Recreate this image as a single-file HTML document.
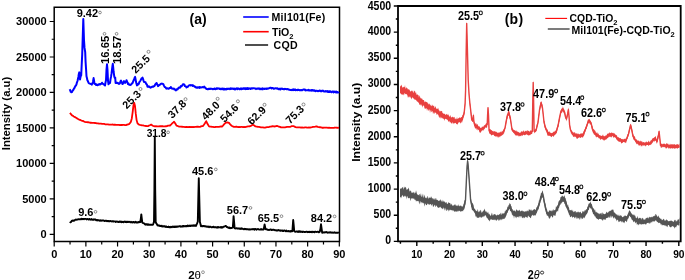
<!DOCTYPE html>
<html><head><meta charset="utf-8"><style>
html,body{margin:0;padding:0;background:#fff;overflow:hidden}
svg{display:block;will-change:transform}
text{font-family:"Liberation Sans",sans-serif}
</style></head><body>
<svg width="685" height="280" viewBox="0 0 685 280">
<rect width="685" height="280" fill="#fff"/>
<g stroke="#000" stroke-width="1.5" fill="none">
<path d="M54.2 7.2 H339.5 V241.4 H54.2 Z"/>
</g>
<path d="M54.20 241.40v5.0 M70.04 241.40v3.0 M85.88 241.40v5.0 M101.72 241.40v3.0 M117.56 241.40v5.0 M133.40 241.40v3.0 M149.24 241.40v5.0 M165.08 241.40v3.0 M180.92 241.40v5.0 M196.76 241.40v3.0 M212.60 241.40v5.0 M228.44 241.40v3.0 M244.28 241.40v5.0 M260.12 241.40v3.0 M275.96 241.40v5.0 M291.80 241.40v3.0 M307.64 241.40v5.0 M323.48 241.40v3.0 M339.32 241.40v5.0 M54.20 234.30h-4.5 M54.20 216.57h-2.5 M54.20 198.84h-4.5 M54.20 181.10h-2.5 M54.20 163.37h-4.5 M54.20 145.64h-2.5 M54.20 127.91h-4.5 M54.20 110.17h-2.5 M54.20 92.44h-4.5 M54.20 74.71h-2.5 M54.20 56.98h-4.5 M54.20 39.24h-2.5 M54.20 21.51h-4.5" stroke="#000" stroke-width="1.2"/>
<text x="54.20" y="257.7" font-size="11" text-anchor="middle" font-family="Liberation Sans, sans-serif" font-weight="bold">0</text>
<text x="85.88" y="257.7" font-size="11" text-anchor="middle" font-family="Liberation Sans, sans-serif" font-weight="bold">10</text>
<text x="117.56" y="257.7" font-size="11" text-anchor="middle" font-family="Liberation Sans, sans-serif" font-weight="bold">20</text>
<text x="149.24" y="257.7" font-size="11" text-anchor="middle" font-family="Liberation Sans, sans-serif" font-weight="bold">30</text>
<text x="180.92" y="257.7" font-size="11" text-anchor="middle" font-family="Liberation Sans, sans-serif" font-weight="bold">40</text>
<text x="212.60" y="257.7" font-size="11" text-anchor="middle" font-family="Liberation Sans, sans-serif" font-weight="bold">50</text>
<text x="244.28" y="257.7" font-size="11" text-anchor="middle" font-family="Liberation Sans, sans-serif" font-weight="bold">60</text>
<text x="275.96" y="257.7" font-size="11" text-anchor="middle" font-family="Liberation Sans, sans-serif" font-weight="bold">70</text>
<text x="307.64" y="257.7" font-size="11" text-anchor="middle" font-family="Liberation Sans, sans-serif" font-weight="bold">80</text>
<text x="339.32" y="257.7" font-size="11" text-anchor="middle" font-family="Liberation Sans, sans-serif" font-weight="bold">90</text>
<text x="46.7" y="238.20" font-size="11" text-anchor="end" font-family="Liberation Sans, sans-serif" font-weight="bold">0</text>
<text x="46.7" y="202.74" font-size="11" text-anchor="end" font-family="Liberation Sans, sans-serif" font-weight="bold">5000</text>
<text x="46.7" y="167.27" font-size="11" text-anchor="end" font-family="Liberation Sans, sans-serif" font-weight="bold">10000</text>
<text x="46.7" y="131.81" font-size="11" text-anchor="end" font-family="Liberation Sans, sans-serif" font-weight="bold">15000</text>
<text x="46.7" y="96.34" font-size="11" text-anchor="end" font-family="Liberation Sans, sans-serif" font-weight="bold">20000</text>
<text x="46.7" y="60.88" font-size="11" text-anchor="end" font-family="Liberation Sans, sans-serif" font-weight="bold">25000</text>
<text x="46.7" y="25.41" font-size="11" text-anchor="end" font-family="Liberation Sans, sans-serif" font-weight="bold">30000</text>
<text transform="translate(10.3,113.5) rotate(-90)" font-size="11.3" text-anchor="middle" font-family="Liberation Sans, sans-serif" font-weight="bold">Intensity (a.u)</text>
<text x="188.2" y="278.5" font-size="11.5" font-family="Liberation Sans, sans-serif" font-weight="bold">2<tspan font-weight="normal">θ</tspan></text>
<circle cx="203" cy="272.2" r="1.4" fill="none" stroke="#555" stroke-width="0.6"/>
<text x="189.6" y="24" font-size="14" font-family="Liberation Sans, sans-serif" font-weight="bold">(a)</text>
<path d="M243.2 17H268.7" stroke="#00f" stroke-width="1.6"/>
<path d="M243.2 31.7H268.7" stroke="#f00" stroke-width="1.6"/>
<path d="M245 45H268.1" stroke="#222" stroke-width="1.6"/>
<text x="271.6" y="20.8" font-size="10.6" font-family="Liberation Sans, sans-serif" font-weight="bold"letter-spacing="0.2">Mil101(Fe)</text>
<text x="271.9" y="35.7" font-size="10.6" font-family="Liberation Sans, sans-serif" font-weight="bold">TiO<tspan font-size="7.5" dy="3.2">2</tspan></text>
<text x="273.6" y="49.3" font-size="10.6" letter-spacing="0.3" font-family="Liberation Sans, sans-serif" font-weight="bold">CQD</text>
<polyline points="69.60,89.21 70.17,90.15 70.73,91.83 71.30,92.33 71.83,92.14 72.35,91.25 72.88,90.21 73.40,90.01 73.90,88.61 74.40,88.17 74.90,86.89 75.40,86.03 75.90,85.52 76.43,84.53 76.97,82.32 77.50,81.00 77.93,79.01 78.37,76.93 78.80,74.08 79.30,72.39 80.00,79.52 80.60,76.50 81.20,75.39 81.70,64.77 82.20,54.61 82.75,36.68 83.30,18.99 84.00,40.35 84.50,47.65 85.20,52.09 85.60,62.15 86.05,68.98 86.50,76.30 86.95,77.99 87.40,80.22 87.97,81.28 88.53,82.70 89.10,83.32 89.64,83.38 90.18,83.85 90.72,83.89 91.26,83.90 91.80,84.62 92.40,83.37 93.00,81.72 93.60,78.08 94.05,80.73 94.50,83.81 95.04,84.01 95.58,83.89 96.12,85.01 96.66,84.42 97.20,85.11 97.74,85.30 98.28,84.46 98.82,84.65 99.36,83.97 99.90,84.49 100.43,84.24 100.95,83.68 101.47,83.66 102.00,82.70 102.50,83.51 103.00,83.80 103.50,84.19 104.00,84.35 104.50,85.07 105.00,85.49 105.50,82.47 106.00,80.18 106.50,69.52 107.00,64.32 107.50,70.16 108.00,80.54 108.50,84.35 109.00,83.40 109.50,83.14 110.00,83.09 110.50,79.41 111.00,76.92 111.50,73.63 111.93,70.08 112.37,66.51 112.80,63.80 113.20,67.34 113.60,71.72 114.30,76.68 114.75,77.81 115.20,77.54 115.60,82.94 116.07,82.82 116.53,82.96 117.00,82.65 117.50,83.15 118.00,82.96 118.50,83.56 119.00,83.94 119.50,83.75 120.00,83.05 120.50,81.39 121.00,80.64 121.50,81.74 122.00,82.77 122.50,84.08 123.00,83.40 123.50,82.24 124.00,81.15 124.50,82.26 125.00,82.86 125.50,82.07 126.00,81.50 126.50,80.21 127.00,81.32 127.50,82.73 128.00,84.09 128.50,83.56 129.00,84.64 129.50,84.66 130.00,84.91 130.50,84.98 131.00,84.68 131.50,84.09 132.00,83.16 132.50,83.15 133.00,81.92 133.57,80.46 134.13,79.15 134.70,77.63 135.10,76.92 135.55,79.26 136.00,81.85 136.50,83.72 137.00,85.36 137.50,85.02 138.00,84.01 138.50,84.31 139.00,83.23 139.50,81.91 140.00,81.23 140.50,80.45 141.00,79.59 141.50,78.45 142.00,78.36 142.50,77.64 143.00,78.83 143.50,80.62 144.00,81.94 144.50,81.96 145.00,82.23 145.50,82.14 146.00,83.74 146.50,83.98 147.00,84.80 147.50,86.80 148.00,86.51 148.50,86.27 149.00,86.89 149.50,86.50 150.00,87.23 150.50,87.66 151.00,87.47 151.50,87.22 152.00,86.67 152.50,86.72 153.00,86.43 153.50,86.72 154.00,86.09 154.50,85.98 155.00,85.11 155.50,84.03 156.00,83.71 156.50,82.93 157.00,83.92 157.50,85.00 158.00,86.15 158.50,85.81 159.00,85.00 159.50,85.07 160.00,84.64 160.47,84.05 160.93,83.81 161.40,83.86 161.87,83.60 162.33,83.85 162.80,83.90 163.31,84.14 163.83,85.48 164.34,86.34 164.86,87.10 165.37,87.25 165.89,87.89 166.40,88.70 166.91,88.49 167.43,88.33 167.94,88.62 168.46,88.75 168.97,88.52 169.49,87.95 170.00,87.97 170.40,87.98 170.80,87.04 171.32,87.92 171.84,88.43 172.36,88.53 172.88,88.74 173.40,88.68 173.92,88.59 174.44,89.50 174.96,89.24 175.48,89.99 176.00,90.42 176.47,89.49 176.94,89.19 177.41,89.49 177.89,88.95 178.36,88.04 178.83,87.69 179.30,87.42 179.80,87.80 180.30,87.24 180.80,86.06 181.30,86.36 181.80,86.08 182.30,85.27 182.80,84.49 183.30,84.25 183.83,84.26 184.37,84.60 184.90,86.12 185.43,86.23 185.97,86.56 186.50,87.48 187.03,86.66 187.57,86.88 188.10,86.56 188.63,85.62 189.17,85.39 189.70,85.17 190.17,85.11 190.64,85.50 191.11,85.14 191.59,85.31 192.06,84.99 192.53,85.85 193.00,85.24 193.50,85.65 194.00,86.09 194.50,86.74 195.00,86.51 195.50,87.36 196.00,87.20 196.50,87.54 197.00,87.83 197.51,87.21 198.03,87.62 198.54,87.28 199.06,87.03 199.57,87.84 200.09,87.10 200.60,87.37 201.11,87.59 201.63,87.35 202.14,87.04 202.66,87.19 203.17,87.18 203.69,87.37 204.20,86.57 204.68,87.47 205.16,87.52 205.64,87.95 206.12,88.90 206.60,89.01 207.08,89.04 207.56,89.23 208.04,89.36 208.52,88.82 209.00,88.97 209.48,88.83 209.96,88.80 210.44,88.97 210.92,88.68 211.40,88.74 211.91,88.68 212.43,89.19 212.94,88.92 213.46,89.11 213.97,89.19 214.49,88.44 215.00,88.77 215.50,89.20 216.00,89.10 216.50,88.35 217.00,88.34 217.50,88.71 218.00,88.32 218.50,88.52 219.00,88.35 219.50,89.02 220.00,89.16 220.50,89.30 221.00,88.50 221.50,89.13 222.00,89.09 222.50,88.53 223.00,89.36 223.50,89.47 224.00,88.66 224.50,89.48 225.00,88.89 225.50,88.98 226.00,89.53 226.50,89.35 227.00,88.60 227.50,88.89 228.00,88.98 228.50,88.78 229.00,88.61 229.50,88.74 230.00,89.18 230.50,88.40 231.00,88.98 231.50,88.85 232.00,88.38 232.50,88.71 233.00,89.03 233.50,88.90 234.00,88.40 234.50,89.41 235.00,89.18 235.50,89.38 236.00,88.42 236.50,88.59 237.00,88.33 237.50,89.14 238.00,88.57 238.50,88.41 239.00,88.73 239.50,89.26 240.00,89.15 240.50,88.52 241.00,88.38 241.50,89.22 242.00,88.82 242.50,88.95 243.00,88.26 243.50,88.21 244.00,88.89 244.50,88.58 245.00,88.18 245.50,89.12 246.00,88.77 246.50,88.94 247.00,88.13 247.50,88.97 248.00,88.08 248.50,88.94 249.00,88.48 249.50,88.34 250.00,88.56 250.50,88.99 251.00,88.29 251.50,88.17 252.00,88.63 252.50,88.34 253.00,88.22 253.50,88.30 254.00,88.21 254.50,88.40 255.00,88.54 255.50,88.56 256.00,89.09 256.50,88.59 257.00,88.85 257.50,88.52 258.00,88.73 258.50,88.39 259.00,88.68 259.50,88.44 260.00,89.26 260.50,89.02 261.00,88.59 261.50,88.86 262.00,89.33 262.50,88.39 263.00,89.13 263.50,88.67 264.00,88.70 264.50,89.04 265.00,88.52 265.50,88.61 266.00,88.77 266.50,89.06 267.00,88.32 267.50,88.82 268.00,88.65 268.50,88.53 269.00,88.24 269.50,88.14 270.00,87.78 270.50,87.83 271.00,87.73 271.50,88.50 272.00,88.01 272.50,87.95 273.00,87.90 273.50,88.77 274.00,88.84 274.50,88.66 275.00,88.28 275.50,88.27 276.00,88.37 276.50,88.59 277.00,88.30 277.50,88.65 278.00,88.49 278.50,89.30 279.00,89.35 279.50,88.92 280.00,88.63 280.50,89.46 281.00,88.78 281.50,88.87 282.00,88.52 282.50,88.98 283.00,89.12 283.50,89.19 284.00,88.90 284.50,89.27 285.00,88.76 285.50,89.09 286.00,88.93 286.50,89.31 287.00,88.96 287.50,88.98 288.00,89.33 288.50,89.29 289.00,89.72 289.50,89.69 290.00,89.98 290.50,89.88 291.00,89.96 291.50,90.15 292.00,89.62 292.50,89.56 293.00,90.29 293.50,89.38 294.00,90.03 294.50,89.95 295.00,89.30 295.50,90.18 296.00,90.25 296.50,89.97 297.00,90.10 297.50,90.19 298.00,89.46 298.50,89.90 299.00,89.88 299.50,90.26 300.00,90.24 300.50,90.27 301.00,90.01 301.50,90.36 302.00,90.14 302.50,90.16 303.00,89.66 303.50,89.45 304.00,89.58 304.50,89.84 305.00,89.57 305.50,90.40 306.00,90.13 306.50,90.24 307.00,90.27 307.50,90.37 308.00,90.19 308.50,89.69 309.00,90.59 309.50,90.57 310.00,90.34 310.50,90.41 311.00,90.58 311.50,89.96 312.00,90.73 312.50,90.23 313.00,90.07 313.50,90.31 314.00,90.85 314.50,90.31 315.00,90.93 315.50,91.22 316.00,90.73 316.50,90.64 317.00,90.78 317.50,91.04 318.00,91.16 318.50,91.03 319.00,91.09 319.50,90.50 320.00,90.61 320.50,90.76 321.00,91.33 321.50,90.88 322.00,91.20 322.50,90.62 323.00,90.71 323.50,90.97 324.00,91.44 324.50,91.50 325.00,91.51 325.50,91.12 326.00,91.40 326.50,91.37 327.00,91.41 327.50,91.05 328.00,91.94 328.50,91.21 329.00,92.09 329.50,92.08 330.00,91.10 330.50,91.62 331.00,92.05 331.50,92.24 332.00,91.70 332.50,91.53 333.00,91.50 333.50,92.34 334.00,91.57 334.50,92.01 335.00,91.55 335.50,92.01 336.00,92.51 336.50,91.64 337.00,92.43 337.50,92.11 338.00,92.56 338.50,92.39 339.00,91.90" fill="none" stroke="#0000ff" stroke-width="2.0" stroke-linejoin="round"/>
<polyline points="69.90,112.92 70.95,114.15 72.00,115.36 72.87,115.82 73.73,116.43 74.60,116.89 75.57,117.47 76.53,118.06 77.50,118.75 78.47,119.18 79.43,119.77 80.40,119.95 81.32,120.52 82.24,120.88 83.16,121.01 84.08,121.59 85.00,121.86 86.00,122.08 87.00,122.06 88.00,122.24 89.00,122.41 90.00,122.75 91.00,122.74 92.00,122.78 93.00,122.91 94.00,122.97 95.00,123.01 96.00,123.14 97.00,123.47 98.00,123.42 99.00,123.72 100.00,123.62 101.00,123.71 102.00,123.86 103.00,123.85 104.00,123.98 105.00,124.24 106.00,124.30 107.00,124.35 108.00,124.38 109.00,124.54 110.00,124.63 111.00,124.56 112.00,124.67 113.00,124.51 114.00,124.77 115.00,124.74 116.00,124.88 117.00,124.89 118.00,124.84 119.00,124.81 120.00,125.13 121.00,124.89 122.00,124.99 123.00,124.95 124.00,124.94 125.00,125.07 126.00,125.14 127.00,124.66 128.00,124.51 129.00,124.14 129.90,123.12 130.80,121.97 131.80,118.40 132.70,111.90 133.50,104.91 134.25,102.87 135.00,106.00 135.80,113.92 136.60,120.12 137.50,123.35 138.25,123.98 139.00,124.69 140.00,124.91 141.00,125.08 142.00,125.35 143.00,125.48 144.00,125.72 145.00,125.93 146.00,126.02 147.00,126.12 148.00,126.07 148.75,125.72 149.50,125.47 150.35,125.06 151.20,124.56 152.10,125.25 153.00,125.87 154.00,126.08 155.00,126.44 156.00,126.19 157.00,126.30 158.00,126.34 159.00,126.41 160.00,126.21 161.00,126.23 162.00,126.22 163.00,126.27 164.00,126.28 165.00,126.44 166.00,126.24 167.00,126.09 168.00,125.68 169.00,125.52 170.00,125.56 171.25,124.37 172.50,122.99 173.30,122.48 174.10,121.75 175.30,123.47 176.50,125.63 177.38,125.92 178.25,126.26 179.12,126.62 180.00,126.72 181.00,126.70 182.00,126.74 183.00,126.87 184.00,126.93 185.00,127.03 186.00,126.99 187.00,126.98 188.00,127.04 189.00,126.97 190.00,127.02 191.00,126.84 192.00,127.04 193.00,126.86 194.00,127.05 195.00,126.94 196.00,126.82 197.00,126.75 198.00,126.77 199.00,126.86 200.00,126.86 201.00,126.42 202.00,126.14 203.00,126.01 203.90,124.77 204.80,123.47 206.20,121.12 207.60,124.03 209.00,126.35 210.00,126.52 211.00,126.65 212.00,126.89 213.00,126.88 214.00,127.03 215.00,126.99 216.00,126.85 217.00,126.78 218.00,126.92 219.00,126.78 220.00,126.59 221.00,126.43 222.00,126.50 223.00,125.55 224.00,124.48 225.00,123.43 226.00,122.55 227.40,122.43 228.20,122.57 229.00,122.86 230.00,124.10 231.00,125.28 232.00,126.00 233.00,126.51 234.00,126.75 235.00,126.79 236.00,126.77 237.00,126.74 238.00,127.03 239.00,126.89 240.00,127.10 241.00,126.92 242.00,126.92 243.00,127.08 244.00,126.94 245.00,127.14 246.00,126.84 247.00,126.59 248.00,126.44 249.00,126.34 250.00,126.25 251.00,125.87 252.00,125.16 253.00,124.77 254.25,125.46 255.50,126.44 256.75,126.54 258.00,126.87 259.00,126.94 260.00,127.11 261.00,127.33 262.00,127.40 263.00,127.43 264.00,127.58 265.00,127.63 266.00,127.31 267.00,127.13 268.00,127.21 269.00,127.01 270.00,126.66 270.90,126.65 271.80,126.36 272.70,126.16 273.85,126.35 275.00,126.50 276.00,126.15 277.00,125.93 278.00,126.26 279.00,126.74 280.00,126.79 281.00,127.34 282.00,127.41 283.00,127.37 284.00,127.42 285.00,127.33 286.00,127.13 287.00,126.93 288.00,126.97 289.00,126.85 290.00,126.93 290.97,126.44 291.93,126.23 292.90,126.12 293.77,126.19 294.63,126.64 295.50,127.09 296.75,127.33 298.00,127.36 299.00,127.36 300.00,127.37 301.00,127.63 302.00,127.43 303.00,127.57 304.00,127.62 305.00,127.45 306.00,127.43 307.00,127.64 308.00,127.54 309.00,127.43 310.00,127.56 311.00,127.27 312.00,127.08 313.00,126.83 314.00,126.88 315.25,126.67 316.50,126.34 317.75,126.88 319.00,127.06 320.00,127.25 321.00,127.46 322.00,127.74 323.00,127.75 324.00,127.59 325.00,127.56 326.00,127.63 327.00,127.66 328.00,127.80 329.00,127.59 330.00,127.78 331.00,127.78 332.00,127.81 333.00,127.81 334.00,127.77 335.00,127.70 336.00,127.71 337.00,127.74 338.00,127.87 339.00,127.67" fill="none" stroke="#ff0000" stroke-width="1.8" stroke-linejoin="round"/>
<polyline points="69.90,221.66 70.45,222.30 71.00,222.10 71.50,221.30 72.00,220.63 72.52,220.86 73.04,220.50 73.56,220.84 74.08,220.59 74.60,220.49 75.08,219.82 75.57,219.58 76.05,219.50 76.53,219.73 77.02,219.81 77.50,219.51 77.98,219.25 78.47,219.30 78.95,219.37 79.43,219.32 79.92,219.29 80.40,219.28 80.91,219.14 81.41,218.72 81.92,219.30 82.42,218.88 82.93,219.11 83.43,218.96 83.94,219.26 84.44,218.84 84.95,218.89 85.45,218.90 85.96,218.84 86.46,219.43 86.97,219.20 87.47,219.01 87.98,219.07 88.48,219.56 88.99,219.18 89.49,218.97 90.00,219.45 90.50,219.37 91.00,219.69 91.50,219.03 92.00,219.38 92.50,219.71 93.00,219.77 93.50,219.88 94.00,219.23 94.50,219.48 95.00,219.40 95.50,219.53 96.00,220.24 96.50,220.01 97.00,220.36 97.50,220.00 98.00,220.47 98.50,220.22 99.00,220.15 99.50,220.64 100.00,220.86 100.50,220.22 101.00,220.66 101.50,220.72 102.00,220.43 102.50,220.59 103.00,220.45 103.50,220.54 104.00,220.62 104.50,220.94 105.00,221.02 105.50,220.70 106.00,220.59 106.50,220.88 107.00,221.20 107.50,220.85 108.00,220.99 108.50,220.94 109.00,221.46 109.50,221.30 110.00,220.95 110.50,221.01 111.00,221.27 111.50,221.42 112.00,221.51 112.50,221.10 113.00,221.18 113.50,221.63 114.00,221.43 114.50,221.35 115.00,221.40 115.50,221.94 116.00,221.45 116.50,221.68 117.00,221.54 117.50,221.61 118.00,221.99 118.50,222.12 119.00,221.64 119.50,221.53 120.00,221.98 120.50,221.57 121.00,221.42 121.50,222.15 122.00,221.78 122.50,222.11 123.00,221.78 123.50,222.18 124.00,221.85 124.50,221.62 125.00,221.51 125.50,221.95 126.00,222.03 126.50,222.26 127.00,221.61 127.50,222.05 128.00,221.86 128.50,221.97 129.00,221.70 129.50,221.82 130.00,222.02 130.50,222.36 131.00,221.72 131.50,222.05 132.00,222.32 132.50,222.47 133.00,221.87 133.50,221.83 134.00,222.50 134.50,222.55 135.00,222.17 135.50,221.85 136.00,222.57 136.50,222.15 137.00,222.59 137.50,222.38 138.00,222.56 138.46,221.93 138.92,222.33 139.38,221.78 139.84,221.82 140.30,222.08 140.90,218.26 141.30,214.35 141.70,217.77 142.30,222.52 142.84,222.95 143.38,223.19 143.92,223.32 144.46,223.76 145.00,224.48 145.50,224.67 146.00,224.03 146.50,224.50 147.00,224.71 147.50,224.18 148.00,224.87 148.50,224.34 149.00,224.78 149.50,224.79 150.00,224.90 150.50,224.61 151.00,224.67 151.50,224.77 152.00,224.61 152.50,224.76 153.00,224.56 153.50,223.25 154.00,221.62 154.40,190.10 154.80,136.99 155.20,189.79 155.70,222.21 156.15,223.10 156.60,223.72 157.05,224.37 157.50,225.48 158.00,225.29 158.50,225.40 159.00,225.74 159.50,225.57 160.00,225.95 160.50,226.06 161.00,225.73 161.50,226.26 162.00,225.87 162.50,226.44 163.00,226.52 163.50,226.36 164.00,226.04 164.50,226.45 165.00,226.40 165.50,226.91 166.00,226.31 166.50,226.94 167.00,227.10 167.50,226.94 168.00,227.05 168.50,226.60 169.00,227.29 169.50,226.94 170.00,227.37 170.50,227.31 171.00,226.68 171.50,227.16 172.00,227.24 172.50,226.53 173.00,226.73 173.50,227.03 174.00,226.53 174.50,227.09 175.00,226.57 175.50,226.98 176.00,226.41 176.50,226.68 177.00,226.99 177.50,226.39 178.00,226.41 178.50,226.58 179.00,226.41 179.50,226.15 180.00,226.25 180.50,226.19 181.00,226.77 181.50,226.52 182.00,226.66 182.50,226.03 183.00,226.49 183.50,225.91 184.00,226.20 184.50,226.25 185.00,225.99 185.50,226.36 186.00,226.06 186.50,226.04 187.00,226.25 187.50,225.58 188.00,226.25 188.50,225.92 189.00,225.70 189.50,225.98 190.00,225.51 190.50,226.08 191.00,225.73 191.50,225.54 192.00,225.85 192.50,225.57 193.00,225.34 193.50,225.78 194.00,225.21 194.50,225.81 195.00,225.34 195.50,225.63 196.00,225.89 196.45,224.69 196.90,223.88 197.35,222.73 197.80,221.60 198.40,194.63 198.80,178.32 199.20,195.09 199.90,221.95 200.45,224.01 201.00,226.32 201.50,225.76 202.00,225.89 202.50,226.29 203.00,225.84 203.50,225.88 204.00,226.22 204.50,226.07 205.00,226.33 205.50,226.28 206.00,226.62 206.50,226.68 207.00,226.43 207.50,226.82 208.00,226.76 208.50,226.54 209.00,227.24 209.50,226.74 210.00,226.72 210.50,226.70 211.00,227.15 211.50,227.36 212.00,227.31 212.50,227.03 213.00,226.94 213.50,226.76 214.00,227.28 214.50,227.24 215.00,227.09 215.50,227.35 216.00,227.21 216.50,227.62 217.00,227.48 217.50,227.11 218.00,227.66 218.50,226.99 219.00,227.40 219.50,227.32 220.00,227.21 220.50,227.08 221.00,227.68 221.50,227.09 222.00,227.54 222.50,227.65 223.00,226.81 223.50,226.66 224.00,226.79 224.50,226.51 225.05,226.21 225.60,225.95 226.15,226.19 226.70,227.05 227.17,227.15 227.64,227.07 228.11,227.85 228.59,227.88 229.06,227.94 229.53,227.49 230.00,228.28 230.47,228.16 230.93,227.91 231.40,228.09 231.87,227.83 232.33,227.61 232.80,227.48 233.30,220.79 233.60,216.13 234.00,220.87 234.60,228.20 235.07,228.26 235.53,228.48 236.00,228.47 236.50,228.15 237.00,228.42 237.50,228.37 238.00,228.69 238.50,228.51 239.00,228.35 239.50,228.69 240.00,228.98 240.50,228.42 241.00,228.99 241.50,228.34 242.00,228.57 242.50,228.59 243.00,229.04 243.50,229.24 244.00,229.12 244.50,228.82 245.00,229.30 245.50,228.88 246.00,228.83 246.50,229.39 247.00,229.18 247.50,229.25 248.00,229.25 248.50,229.52 249.00,229.14 249.50,229.45 250.00,229.36 250.50,229.50 251.00,229.18 251.50,229.42 252.00,229.32 252.50,229.12 253.00,229.06 253.50,229.40 254.00,228.98 254.50,229.66 255.00,229.07 255.50,228.99 256.00,229.07 256.50,229.74 257.00,229.29 257.50,229.14 258.00,229.06 258.50,229.09 259.00,229.62 259.50,229.59 260.00,229.66 260.48,229.66 260.95,229.10 261.43,229.50 261.90,229.29 262.38,229.63 262.85,229.61 263.32,229.64 263.80,228.95 264.30,226.29 264.60,224.53 265.00,226.36 265.50,229.09 266.00,229.23 266.50,229.22 267.00,229.23 267.50,229.91 268.00,229.92 268.50,229.81 269.00,230.00 269.50,229.88 270.00,229.64 270.50,229.52 271.00,229.56 271.50,230.12 272.00,229.71 272.50,229.84 273.00,229.95 273.50,229.67 274.00,229.89 274.50,229.95 275.00,230.33 275.50,230.08 276.00,230.08 276.50,230.63 277.00,230.30 277.50,230.61 278.00,230.46 278.50,230.02 279.00,230.36 279.50,230.41 280.00,230.72 280.50,230.42 281.00,230.74 281.50,230.65 282.00,230.43 282.50,230.99 283.00,230.41 283.50,231.04 284.00,230.56 284.50,230.46 285.00,230.66 285.50,231.15 286.00,231.36 286.50,230.62 287.00,231.05 287.50,231.09 288.00,231.38 288.50,230.93 289.00,231.22 289.50,231.14 290.00,231.57 290.48,231.05 290.96,231.54 291.44,230.95 291.92,230.83 292.40,231.16 292.90,224.00 293.20,219.99 293.60,224.11 294.20,230.86 294.60,231.58 295.00,231.66 295.50,231.75 296.00,231.64 296.50,231.43 297.00,231.49 297.50,231.50 298.00,231.91 298.50,231.29 299.00,231.94 299.50,231.27 300.00,231.43 300.50,231.49 301.00,232.02 301.50,231.72 302.00,231.64 302.50,232.06 303.00,231.55 303.50,231.75 304.00,231.83 304.50,232.02 305.00,232.04 305.50,231.97 306.00,231.75 306.50,231.74 307.00,231.62 307.50,232.19 308.00,232.06 308.50,232.14 309.00,231.70 309.50,231.93 310.00,232.22 310.49,232.06 310.98,231.70 311.47,231.97 311.96,232.31 312.45,231.79 312.94,231.75 313.43,231.84 313.92,232.16 314.41,232.27 314.90,231.72 315.39,231.72 315.88,231.80 316.37,231.86 316.86,232.02 317.35,231.73 317.84,231.86 318.33,231.75 318.82,232.38 319.31,232.18 319.80,231.68 320.50,228.37 321.00,224.28 321.50,227.91 322.20,232.79 322.69,232.64 323.19,232.60 323.68,232.37 324.18,232.18 324.67,232.54 325.16,232.12 325.66,232.21 326.15,232.36 326.65,232.08 327.14,232.38 327.64,232.70 328.13,232.63 328.62,232.48 329.12,232.59 329.61,232.46 330.11,232.21 330.60,232.58 331.09,232.43 331.59,232.70 332.08,232.84 332.58,232.47 333.07,232.59 333.56,232.73 334.06,232.48 334.55,232.33 335.05,232.73 335.54,232.86 336.04,232.78 336.53,232.73 337.02,232.86 337.52,232.73 338.01,232.70 338.51,232.56 339.00,232.45" fill="none" stroke="#000" stroke-width="1.9" stroke-linejoin="round"/>
<text x="76.70" y="16.50" font-size="11" font-family="Liberation Sans, sans-serif" font-weight="bold">9.42</text>
<circle cx="100.00" cy="12.50" r="1.35" fill="none" stroke="#444" stroke-width="0.6"/>
<text x="78.20" y="215.70" font-size="11" font-family="Liberation Sans, sans-serif" font-weight="bold">9.6</text>
<circle cx="95.50" cy="211.80" r="1.35" fill="none" stroke="#444" stroke-width="0.6"/>
<text x="146.70" y="136.50" font-size="10.2" font-family="Liberation Sans, sans-serif" font-weight="bold">31.8</text>
<circle cx="168.10" cy="132.30" r="1.35" fill="none" stroke="#444" stroke-width="0.6"/>
<text x="192.00" y="175.20" font-size="11" font-family="Liberation Sans, sans-serif" font-weight="bold">45.6</text>
<circle cx="215.80" cy="169.40" r="1.35" fill="none" stroke="#444" stroke-width="0.6"/>
<text x="226.80" y="213.60" font-size="11" font-family="Liberation Sans, sans-serif" font-weight="bold">56.7</text>
<circle cx="250.50" cy="207.90" r="1.35" fill="none" stroke="#444" stroke-width="0.6"/>
<text x="257.70" y="221.50" font-size="11" font-family="Liberation Sans, sans-serif" font-weight="bold">65.5</text>
<circle cx="281.50" cy="216.20" r="1.35" fill="none" stroke="#444" stroke-width="0.6"/>
<text x="310.80" y="221.70" font-size="11" font-family="Liberation Sans, sans-serif" font-weight="bold">84.2</text>
<circle cx="334.60" cy="216.40" r="1.35" fill="none" stroke="#444" stroke-width="0.6"/>
<text transform="translate(108.70,64.00) rotate(-90)" font-size="11.3" font-family="Liberation Sans, sans-serif" font-weight="bold">16.65</text>
<circle cx="104.50" cy="33.80" r="1.35" fill="none" stroke="#444" stroke-width="0.6"/>
<text transform="translate(120.90,64.00) rotate(-90)" font-size="11.3" font-family="Liberation Sans, sans-serif" font-weight="bold">18.57</text>
<circle cx="116.60" cy="33.80" r="1.35" fill="none" stroke="#444" stroke-width="0.6"/>
<text transform="translate(135.80,74.00) rotate(-45)" font-size="10.8" font-family="Liberation Sans, sans-serif" font-weight="bold">25.5</text>
<circle cx="148.50" cy="51.80" r="1.50" fill="none" stroke="#444" stroke-width="0.6"/>
<text transform="translate(126.80,109.50) rotate(-45)" font-size="10.8" font-family="Liberation Sans, sans-serif" font-weight="bold">25.3</text>
<circle cx="140.50" cy="89.00" r="1.50" fill="none" stroke="#444" stroke-width="0.6"/>
<text transform="translate(172.20,119.00) rotate(-45)" font-size="10.8" font-family="Liberation Sans, sans-serif" font-weight="bold">37.8</text>
<circle cx="185.50" cy="99.20" r="1.50" fill="none" stroke="#444" stroke-width="0.6"/>
<text transform="translate(205.75,120.70) rotate(-45)" font-size="10.8" font-family="Liberation Sans, sans-serif" font-weight="bold">48.0</text>
<circle cx="217.60" cy="98.80" r="1.50" fill="none" stroke="#444" stroke-width="0.6"/>
<text transform="translate(224.50,123.10) rotate(-45)" font-size="10.8" font-family="Liberation Sans, sans-serif" font-weight="bold">54.6</text>
<circle cx="237.90" cy="101.30" r="1.50" fill="none" stroke="#444" stroke-width="0.6"/>
<text transform="translate(251.80,125.50) rotate(-45)" font-size="10.8" font-family="Liberation Sans, sans-serif" font-weight="bold">62.9</text>
<circle cx="264.50" cy="104.80" r="1.50" fill="none" stroke="#444" stroke-width="0.6"/>
<text transform="translate(290.00,124.50) rotate(-45)" font-size="10.8" font-family="Liberation Sans, sans-serif" font-weight="bold">75.3</text>
<circle cx="303.50" cy="104.50" r="1.50" fill="none" stroke="#444" stroke-width="0.6"/>
<path d="M398.0 6.0 H680.7 V241.4 H398.0 Z" stroke="#000" stroke-width="1.8" fill="none"/>
<path d="M400.43 241.40v2.3 M416.80 241.40v4.5 M433.18 241.40v2.3 M449.55 241.40v4.5 M465.93 241.40v2.3 M482.30 241.40v4.5 M498.68 241.40v2.3 M515.05 241.40v4.5 M531.42 241.40v2.3 M547.80 241.40v4.5 M564.17 241.40v2.3 M580.55 241.40v4.5 M596.92 241.40v2.3 M613.30 241.40v4.5 M629.67 241.40v2.3 M646.05 241.40v4.5 M662.42 241.40v2.3 M678.80 241.40v4.5 M398.00 241.40h-4.2 M398.00 228.32h-2.2 M398.00 215.24h-4.2 M398.00 202.16h-2.2 M398.00 189.08h-4.2 M398.00 176.00h-2.2 M398.00 162.92h-4.2 M398.00 149.84h-2.2 M398.00 136.76h-4.2 M398.00 123.68h-2.2 M398.00 110.60h-4.2 M398.00 97.52h-2.2 M398.00 84.44h-4.2 M398.00 71.36h-2.2 M398.00 58.28h-4.2 M398.00 45.20h-2.2 M398.00 32.12h-4.2 M398.00 19.04h-2.2 M398.00 5.96h-4.2" stroke="#000" stroke-width="1.4"/>
<text transform="translate(416.80,258.40) scale(0.880,1)" font-size="11.6" text-anchor="middle" font-family="Liberation Sans, sans-serif" font-weight="bold" >10</text>
<text transform="translate(449.55,258.40) scale(0.880,1)" font-size="11.6" text-anchor="middle" font-family="Liberation Sans, sans-serif" font-weight="bold" >20</text>
<text transform="translate(482.30,258.40) scale(0.880,1)" font-size="11.6" text-anchor="middle" font-family="Liberation Sans, sans-serif" font-weight="bold" >30</text>
<text transform="translate(515.05,258.40) scale(0.880,1)" font-size="11.6" text-anchor="middle" font-family="Liberation Sans, sans-serif" font-weight="bold" >40</text>
<text transform="translate(547.80,258.40) scale(0.880,1)" font-size="11.6" text-anchor="middle" font-family="Liberation Sans, sans-serif" font-weight="bold" >50</text>
<text transform="translate(580.55,258.40) scale(0.880,1)" font-size="11.6" text-anchor="middle" font-family="Liberation Sans, sans-serif" font-weight="bold" >60</text>
<text transform="translate(613.30,258.40) scale(0.880,1)" font-size="11.6" text-anchor="middle" font-family="Liberation Sans, sans-serif" font-weight="bold" >70</text>
<text transform="translate(646.05,258.40) scale(0.880,1)" font-size="11.6" text-anchor="middle" font-family="Liberation Sans, sans-serif" font-weight="bold" >80</text>
<text transform="translate(678.80,258.40) scale(0.880,1)" font-size="11.6" text-anchor="middle" font-family="Liberation Sans, sans-serif" font-weight="bold" >90</text>
<text transform="translate(391.20,244.40) scale(0.880,1)" font-size="12.0" text-anchor="end" font-family="Liberation Sans, sans-serif" font-weight="bold" >0</text>
<text transform="translate(391.20,218.24) scale(0.880,1)" font-size="12.0" text-anchor="end" font-family="Liberation Sans, sans-serif" font-weight="bold" >500</text>
<text transform="translate(391.20,192.08) scale(0.880,1)" font-size="12.0" text-anchor="end" font-family="Liberation Sans, sans-serif" font-weight="bold" >1000</text>
<text transform="translate(391.20,165.92) scale(0.880,1)" font-size="12.0" text-anchor="end" font-family="Liberation Sans, sans-serif" font-weight="bold" >1500</text>
<text transform="translate(391.20,139.76) scale(0.880,1)" font-size="12.0" text-anchor="end" font-family="Liberation Sans, sans-serif" font-weight="bold" >2000</text>
<text transform="translate(391.20,113.60) scale(0.880,1)" font-size="12.0" text-anchor="end" font-family="Liberation Sans, sans-serif" font-weight="bold" >2500</text>
<text transform="translate(391.20,87.44) scale(0.880,1)" font-size="12.0" text-anchor="end" font-family="Liberation Sans, sans-serif" font-weight="bold" >3000</text>
<text transform="translate(391.20,61.28) scale(0.880,1)" font-size="12.0" text-anchor="end" font-family="Liberation Sans, sans-serif" font-weight="bold" >3500</text>
<text transform="translate(391.20,35.12) scale(0.880,1)" font-size="12.0" text-anchor="end" font-family="Liberation Sans, sans-serif" font-weight="bold" >4000</text>
<text transform="translate(391.20,10.16) scale(0.880,1)" font-size="12.0" text-anchor="end" font-family="Liberation Sans, sans-serif" font-weight="bold" >4500</text>
<text transform="translate(360.3,122.3) rotate(-90) scale(1.15,1)" font-size="10.6" text-anchor="middle" font-family="Liberation Sans, sans-serif" font-weight="bold">Intensity (a.u)</text>
<text transform="translate(527.7,278.7) scale(0.9,1)" font-size="12" font-family="Liberation Sans, sans-serif" font-weight="bold">2<tspan font-weight="normal" font-style="italic">θ</tspan></text>
<ellipse cx="542.1" cy="272.6" rx="1.6" ry="1.5" fill="none" stroke="#222" stroke-width="0.9"/>
<text x="504.8" y="23.7" font-size="14" font-family="Liberation Sans, sans-serif" font-weight="bold">(b<tspan dx="0.6">)</tspan></text>
<path d="M545.3 18.4H567.1" stroke="#f00" stroke-width="1.1"/>
<path d="M547.8 29H569.6" stroke="#505050" stroke-width="1.5"/>
<text x="569.6" y="22" font-size="10.4" font-family="Liberation Sans, sans-serif" font-weight="bold">CQD-TiO<tspan font-size="7.5" dy="3">2</tspan></text>
<text x="571.6" y="33.9" font-size="10.5" font-family="Liberation Sans, sans-serif" font-weight="bold">Mil101(Fe)-CQD-TiO<tspan font-size="7.5" dy="3">2</tspan></text>
<polygon points="400.00,87.08 400.50,85.72 401.00,85.85 401.50,84.60 402.00,86.41 402.50,87.40 403.00,87.66 403.50,86.66 404.00,87.03 404.50,87.18 405.00,85.06 405.50,88.66 406.00,88.13 406.50,86.95 407.00,88.77 407.50,88.04 408.00,89.94 408.50,88.77 409.00,89.84 409.50,89.44 410.00,90.90 410.50,91.53 411.00,91.40 411.50,90.38 412.00,90.69 412.50,91.64 413.00,89.92 413.50,93.14 414.00,91.72 414.50,90.77 415.00,90.75 415.50,93.57 416.00,91.96 416.50,94.49 417.00,94.90 417.50,94.06 418.00,95.30 418.50,95.00 419.00,97.66 419.50,95.24 420.00,96.40 420.50,98.17 421.00,98.15 421.50,98.83 422.00,98.31 422.50,99.50 423.00,100.34 423.50,100.06 424.00,99.91 424.50,102.38 425.00,101.31 425.50,101.70 426.00,101.84 426.50,101.95 427.00,102.22 427.50,102.40 428.00,103.87 428.50,103.40 429.00,105.03 429.50,103.37 430.00,104.39 430.50,105.04 431.00,105.88 431.50,106.20 432.00,104.37 432.50,105.39 433.00,105.70 433.50,106.15 434.00,105.27 434.50,107.98 435.00,107.61 435.50,105.89 436.00,108.11 436.50,108.66 437.00,108.99 437.50,109.00 438.00,107.58 438.50,108.94 439.00,110.45 439.50,110.48 440.00,112.09 440.50,110.74 441.00,111.05 441.50,111.27 442.00,110.83 442.50,113.16 443.00,112.65 443.50,113.64 444.00,114.26 444.50,113.60 445.00,114.09 445.50,114.91 446.00,114.74 446.50,113.85 447.00,114.51 447.50,115.27 448.00,113.58 448.50,115.29 449.00,115.47 449.50,116.87 450.00,116.46 450.50,114.80 451.00,117.68 451.50,116.95 452.00,117.51 452.50,116.47 453.00,117.12 453.50,117.54 454.00,117.31 454.50,116.83 455.00,119.38 455.50,118.69 456.00,118.32 456.50,119.40 457.00,116.76 457.50,119.23 458.00,118.60 458.50,118.27 459.00,118.10 459.50,117.31 460.00,117.84 460.50,118.32 461.00,116.74 461.50,117.28 462.00,117.07 462.50,114.95 463.00,114.51 463.55,112.70 464.10,110.97 464.60,105.86 465.10,102.03 465.60,88.60 466.20,48.30 466.70,20.98 467.30,42.62 467.75,60.01 468.20,76.76 468.65,84.95 469.10,93.22 469.50,98.07 469.90,102.20 470.40,104.80 470.90,110.69 471.30,113.67 471.70,116.65 472.15,118.56 472.60,118.75 473.00,116.18 473.40,113.00 473.90,120.06 474.40,122.04 474.90,122.87 475.37,123.57 475.83,123.85 476.30,123.18 476.77,125.04 477.23,123.74 477.70,124.87 478.18,125.77 478.67,126.48 479.15,126.11 479.63,126.76 480.12,127.43 480.60,127.99 481.07,127.72 481.53,127.74 482.00,126.48 482.47,126.81 482.93,126.86 483.40,126.86 483.95,125.60 484.50,125.22 485.05,124.89 485.60,124.23 486.13,123.03 486.67,123.38 487.20,123.06 487.60,113.71 488.00,106.44 488.50,113.57 489.10,128.89 489.61,128.98 490.13,129.19 490.64,129.33 491.16,130.15 491.67,130.01 492.19,130.76 492.70,131.13 493.16,130.67 493.62,131.67 494.08,131.21 494.54,130.94 495.00,131.68 495.50,131.62 496.00,131.81 496.50,131.75 497.00,132.39 497.50,132.91 498.00,132.36 498.50,132.71 499.00,132.73 499.50,132.22 500.00,132.50 500.50,131.18 501.00,132.39 501.50,131.89 502.00,130.42 502.50,131.69 503.00,130.58 503.50,129.83 504.00,128.53 504.50,127.88 505.00,126.66 505.50,123.16 506.00,120.19 506.50,118.31 507.00,113.81 507.53,114.23 508.07,110.95 508.60,109.96 509.17,110.93 509.73,113.06 510.30,115.77 510.87,118.74 511.43,123.96 512.00,127.50 512.50,128.29 513.00,128.94 513.50,129.67 514.00,130.35 514.50,129.94 515.00,130.55 515.50,131.31 516.00,130.08 516.50,131.11 517.00,131.74 517.50,131.15 518.00,132.16 518.50,131.87 519.00,132.58 519.50,132.82 520.00,132.69 520.50,132.81 521.00,131.54 521.50,131.16 522.00,131.64 522.50,131.46 523.00,131.43 523.50,130.09 524.00,131.85 524.50,131.89 525.00,130.61 525.50,131.22 526.00,130.68 526.50,130.68 527.00,131.78 527.50,129.85 528.00,130.93 528.50,130.67 529.00,131.00 529.50,132.02 530.00,130.79 530.46,130.75 530.92,130.01 531.38,130.96 531.84,130.24 532.30,129.98 532.80,97.48 533.20,79.76 533.60,98.04 534.10,129.27 534.58,129.76 535.05,129.64 535.52,128.88 536.00,128.81 536.50,125.88 537.00,123.87 537.50,122.63 538.00,119.91 538.50,115.07 539.00,112.92 539.50,108.56 540.03,104.75 540.57,103.36 541.10,100.80 541.57,102.82 542.03,103.83 542.50,104.95 543.00,110.67 543.50,115.53 544.00,120.21 544.50,121.63 545.00,124.43 545.50,126.35 546.00,126.65 546.50,128.23 547.00,129.67 547.50,128.98 548.00,131.08 548.50,131.98 549.00,131.64 549.50,131.28 550.00,132.77 550.50,132.46 551.00,133.05 551.50,133.22 552.00,132.78 552.50,132.94 553.00,132.15 553.50,132.09 554.00,131.36 554.50,132.02 555.00,130.53 555.50,130.51 556.00,131.32 556.50,128.71 557.00,126.86 557.50,124.90 558.00,123.88 558.50,121.13 559.00,118.65 559.50,116.68 560.00,114.24 560.50,112.02 561.00,109.58 561.48,108.93 561.95,108.12 562.42,108.24 562.90,106.21 563.43,108.22 563.97,108.82 564.50,110.74 565.00,111.41 565.50,115.19 566.00,116.84 566.50,117.20 567.05,114.40 567.60,112.48 568.00,108.45 568.40,107.42 569.00,114.34 569.60,121.60 570.05,125.31 570.50,128.08 571.00,129.26 571.50,130.23 572.00,131.42 572.50,131.49 573.00,132.73 573.50,132.01 574.00,133.38 574.50,131.94 575.00,132.37 575.50,133.64 576.00,133.19 576.50,133.50 577.00,133.49 577.50,133.55 578.00,134.59 578.50,133.48 579.00,133.79 579.50,134.54 580.00,134.07 580.50,133.81 581.00,133.00 581.50,133.84 582.00,133.15 582.50,133.39 583.00,133.22 583.50,131.86 584.00,130.58 584.50,129.73 585.00,128.60 585.50,126.68 586.00,126.82 586.50,124.59 587.00,123.65 587.50,120.82 588.00,119.49 588.53,119.41 589.07,118.71 589.60,119.30 590.07,119.96 590.53,120.88 591.00,121.54 591.50,123.37 592.00,125.50 592.50,126.60 593.00,128.89 593.50,129.35 594.00,129.23 594.50,130.22 595.00,130.38 595.50,131.25 596.00,133.13 596.50,133.11 597.00,131.64 597.50,133.25 598.00,133.92 598.50,133.17 599.00,134.96 599.50,135.25 600.00,135.28 600.50,135.59 601.00,135.63 601.50,136.07 602.00,135.75 602.50,135.62 603.00,134.34 603.50,136.03 604.00,136.17 604.50,136.01 605.00,136.45 605.50,135.42 606.00,135.24 606.50,135.38 607.00,134.25 607.50,133.45 608.00,133.67 608.50,133.33 609.00,133.57 609.50,131.99 610.00,133.37 610.50,132.86 611.00,133.24 611.50,132.24 612.00,132.75 612.50,133.27 613.00,132.57 613.50,133.33 614.00,133.42 614.50,133.35 615.00,133.97 615.50,134.84 616.00,134.76 616.50,135.24 617.00,135.47 617.50,137.14 618.00,137.30 618.50,137.37 619.00,137.42 619.50,138.37 620.00,138.05 620.50,138.05 621.00,138.85 621.50,139.04 622.00,139.18 622.50,139.28 623.00,138.73 623.50,139.63 624.00,138.66 624.50,138.66 625.00,139.01 625.50,138.35 626.00,139.48 626.50,137.74 627.00,136.15 627.50,134.35 628.00,133.93 628.50,132.26 629.02,129.55 629.55,128.32 630.08,125.37 630.60,123.49 631.07,125.27 631.53,126.48 632.00,128.72 632.50,131.26 633.00,134.23 633.50,134.84 634.00,136.69 634.50,135.95 635.00,136.56 635.50,139.29 636.00,139.40 636.50,139.22 637.00,139.64 637.50,140.47 638.00,141.12 638.50,140.59 639.00,140.52 639.50,141.64 640.00,141.04 640.50,140.50 641.00,142.08 641.50,141.27 642.00,140.95 642.50,142.22 643.00,142.50 643.50,142.07 644.00,142.09 644.50,142.72 645.00,142.34 645.50,142.54 646.00,141.56 646.50,141.51 647.00,142.49 647.50,141.93 648.00,142.29 648.50,140.75 649.00,140.72 649.50,142.13 650.00,142.36 650.50,140.62 651.00,140.44 651.50,140.32 652.00,139.24 652.50,138.40 653.00,137.64 653.55,138.15 654.10,137.59 654.65,137.19 655.20,136.56 655.65,136.05 656.10,137.72 656.55,139.21 657.00,139.51 657.43,136.53 657.87,135.98 658.30,133.74 658.70,131.39 659.10,130.07 659.80,136.30 660.50,142.39 661.00,143.27 661.50,143.81 662.00,143.92 662.50,144.39 663.00,143.34 663.50,144.00 664.00,143.64 664.50,143.55 665.00,144.35 665.50,144.33 666.00,144.33 666.50,143.03 667.00,143.44 667.50,144.11 668.00,143.16 668.50,144.80 669.00,144.49 669.50,144.95 670.00,143.48 670.50,144.44 671.00,144.66 671.50,144.26 672.00,144.00 672.50,144.77 673.00,143.77 673.50,144.71 674.00,144.24 674.50,143.97 675.00,144.78 675.50,144.93 676.00,144.27 676.50,144.16 677.00,144.91 677.50,144.04 678.00,144.07 678.50,145.18 679.00,144.05 679.50,143.62 679.50,148.32 679.00,147.75 678.50,148.00 678.00,147.91 677.50,148.96 677.00,147.88 676.50,148.46 676.00,147.67 675.50,148.23 675.00,149.37 674.50,148.50 674.00,148.14 673.50,148.25 673.00,148.15 672.50,148.63 672.00,148.35 671.50,147.93 671.00,148.69 670.50,148.51 670.00,148.13 669.50,147.82 669.00,149.25 668.50,148.25 668.00,147.38 667.50,147.22 667.00,148.03 666.50,148.14 666.00,148.66 665.50,148.02 665.00,146.74 664.50,147.55 664.00,146.76 663.50,147.10 663.00,147.41 662.50,146.60 662.00,147.67 661.50,147.41 661.00,147.77 660.50,147.02 659.80,139.75 659.10,132.90 658.70,136.14 658.30,138.38 657.87,140.06 657.43,141.94 657.00,143.80 656.55,143.16 656.10,141.17 655.65,140.49 655.20,140.44 654.65,142.01 654.10,140.51 653.55,141.58 653.00,141.64 652.50,142.92 652.00,143.36 651.50,144.17 651.00,144.39 650.50,144.79 650.00,145.30 649.50,144.85 649.00,145.45 648.50,146.08 648.00,145.09 647.50,145.08 647.00,145.07 646.50,145.56 646.00,145.14 645.50,146.61 645.00,145.91 644.50,145.24 644.00,145.15 643.50,145.77 643.00,145.36 642.50,145.21 642.00,146.72 641.50,145.54 641.00,146.73 640.50,144.70 640.00,145.16 639.50,145.26 639.00,146.14 638.50,144.84 638.00,144.44 637.50,143.50 637.00,144.62 636.50,143.81 636.00,143.17 635.50,141.96 635.00,140.80 634.50,140.23 634.00,140.11 633.50,139.45 633.00,137.76 632.50,135.82 632.00,132.92 631.53,130.98 631.07,129.85 630.60,127.20 630.08,128.73 629.55,131.34 629.02,134.11 628.50,135.91 628.00,137.16 627.50,138.92 627.00,139.14 626.50,141.56 626.00,143.32 625.50,142.22 625.00,143.18 624.50,141.94 624.00,141.99 623.50,142.11 623.00,142.18 622.50,143.00 622.00,143.03 621.50,143.67 621.00,142.87 620.50,141.55 620.00,142.04 619.50,141.57 619.00,142.25 618.50,141.25 618.00,141.08 617.50,140.49 617.00,140.34 616.50,139.49 616.00,138.43 615.50,137.43 615.00,137.24 614.50,137.24 614.00,137.36 613.50,138.10 613.00,136.54 612.50,135.86 612.00,136.65 611.50,137.76 611.00,136.36 610.50,136.94 610.00,137.20 609.50,136.74 609.00,136.49 608.50,137.38 608.00,137.63 607.50,138.31 607.00,138.49 606.50,139.44 606.00,139.34 605.50,140.09 605.00,139.50 604.50,140.71 604.00,140.37 603.50,140.59 603.00,139.30 602.50,139.58 602.00,139.46 601.50,138.95 601.00,138.64 600.50,140.31 600.00,139.30 599.50,138.41 599.00,137.65 598.50,138.59 598.00,136.81 597.50,137.17 597.00,136.48 596.50,137.86 596.00,136.48 595.50,136.44 595.00,134.46 594.50,134.88 594.00,134.77 593.50,133.26 593.00,133.37 592.50,130.30 592.00,130.14 591.50,127.64 591.00,125.19 590.53,123.84 590.07,125.03 589.60,123.58 589.07,122.56 588.53,123.26 588.00,124.02 587.50,125.72 587.00,127.17 586.50,128.95 586.00,129.22 585.50,131.40 585.00,132.62 584.50,134.25 584.00,135.74 583.50,136.23 583.00,137.38 582.50,137.20 582.00,137.64 581.50,136.80 581.00,137.52 580.50,138.04 580.00,137.66 579.50,136.97 579.00,137.94 578.50,137.52 578.00,138.37 577.50,138.68 577.00,138.74 576.50,138.62 576.00,137.03 575.50,136.53 575.00,137.39 574.50,136.56 574.00,136.60 573.50,136.91 573.00,136.47 572.50,134.83 572.00,135.54 571.50,133.36 571.00,133.85 570.50,131.24 570.05,129.54 569.60,126.58 569.00,118.27 568.40,111.84 568.00,113.84 567.60,115.90 567.05,118.04 566.50,121.60 566.00,119.62 565.50,118.70 565.00,115.89 564.50,113.46 563.97,113.55 563.43,112.16 562.90,110.91 562.42,111.74 561.95,112.75 561.48,113.02 561.00,112.57 560.50,114.65 560.00,118.01 559.50,121.18 559.00,122.60 558.50,126.56 558.00,127.33 557.50,129.27 557.00,131.71 556.50,133.29 556.00,133.96 555.50,134.27 555.00,135.31 554.50,135.04 554.00,136.17 553.50,136.95 553.00,135.89 552.50,135.75 552.00,136.56 551.50,137.35 551.00,136.80 550.50,136.18 550.00,135.74 549.50,136.02 549.00,135.38 548.50,136.08 548.00,135.53 547.50,135.81 547.00,133.85 546.50,131.64 546.00,130.69 545.50,130.12 545.00,127.90 544.50,127.31 544.00,124.20 543.50,120.01 543.00,114.82 542.50,109.39 542.03,108.63 541.57,106.31 541.10,104.20 540.57,107.35 540.03,109.86 539.50,112.38 539.00,116.51 538.50,119.79 538.00,124.47 537.50,126.37 537.00,127.78 536.50,129.77 536.00,131.78 535.52,132.34 535.05,132.36 534.58,132.79 534.10,133.57 533.60,101.42 533.20,84.15 532.80,101.60 532.30,133.42 531.84,134.05 531.38,133.99 530.92,134.54 530.46,134.49 530.00,135.57 529.50,135.06 529.00,135.32 528.50,135.73 528.00,134.76 527.50,135.33 527.00,134.60 526.50,134.34 526.00,134.65 525.50,134.71 525.00,135.21 524.50,135.23 524.00,134.88 523.50,134.63 523.00,134.87 522.50,136.05 522.00,135.56 521.50,135.13 521.00,136.50 520.50,135.76 520.00,135.93 519.50,135.87 519.00,136.95 518.50,135.63 518.00,135.48 517.50,135.53 517.00,135.53 516.50,135.81 516.00,135.02 515.50,135.87 515.00,134.60 514.50,134.16 514.00,133.09 513.50,133.35 513.00,132.10 512.50,131.43 512.00,131.46 511.43,128.27 510.87,123.38 510.30,119.64 509.73,119.03 509.17,116.40 508.60,115.44 508.07,115.55 507.53,118.69 507.00,118.85 506.50,121.09 506.00,124.73 505.50,126.53 505.00,129.95 504.50,131.55 504.00,133.68 503.50,133.33 503.00,135.17 502.50,134.53 502.00,135.46 501.50,135.71 501.00,135.80 500.50,136.09 500.00,137.39 499.50,136.80 499.00,136.15 498.50,137.20 498.00,137.96 497.50,136.03 497.00,137.39 496.50,135.67 496.00,136.95 495.50,136.20 495.00,136.17 494.54,135.98 494.08,135.81 493.62,134.55 493.16,134.95 492.70,134.66 492.19,134.89 491.67,135.59 491.16,135.29 490.64,134.14 490.13,134.09 489.61,133.59 489.10,133.41 488.50,116.72 488.00,110.41 487.60,116.85 487.20,126.99 486.67,127.95 486.13,127.52 485.60,127.22 485.05,128.08 484.50,129.21 483.95,129.15 483.40,130.64 482.93,130.13 482.47,130.19 482.00,130.70 481.53,130.79 481.07,132.31 480.60,133.27 480.12,131.79 479.63,132.68 479.15,131.34 478.67,129.57 478.18,129.91 477.70,130.42 477.23,128.49 476.77,130.35 476.30,128.17 475.83,128.10 475.37,129.06 474.90,128.02 474.40,125.94 473.90,123.63 473.40,116.78 473.00,120.50 472.60,122.24 472.15,121.41 471.70,120.78 471.30,117.66 470.90,115.60 470.40,109.58 469.90,106.03 469.50,101.19 469.10,96.79 468.65,89.02 468.20,82.62 467.75,65.03 467.30,47.36 466.70,25.08 466.20,52.22 465.60,92.23 465.10,106.01 464.60,110.80 464.10,115.20 463.55,116.83 463.00,119.90 462.50,120.78 462.00,123.00 461.50,121.16 461.00,123.50 460.50,123.33 460.00,122.24 459.50,122.27 459.00,122.30 458.50,122.48 458.00,123.55 457.50,124.83 457.00,124.12 456.50,124.27 456.00,123.59 455.50,122.81 455.00,122.89 454.50,123.29 454.00,123.39 453.50,123.01 453.00,124.41 452.50,121.93 452.00,123.03 451.50,123.68 451.00,123.02 450.50,121.80 450.00,122.90 449.50,120.43 449.00,122.21 448.50,121.59 448.00,120.65 447.50,119.41 447.00,120.25 446.50,119.09 446.00,118.94 445.50,119.12 445.00,118.55 444.50,120.95 444.00,119.14 443.50,118.91 443.00,117.99 442.50,118.64 442.00,117.62 441.50,117.61 441.00,118.70 440.50,117.76 440.00,116.27 439.50,118.12 439.00,117.21 438.50,115.54 438.00,114.62 437.50,113.70 437.00,115.17 436.50,114.15 436.00,112.77 435.50,112.88 435.00,112.08 434.50,113.23 434.00,114.36 433.50,111.99 433.00,113.92 432.50,110.63 432.00,111.84 431.50,112.34 431.00,109.80 430.50,110.97 430.00,112.89 429.50,109.07 429.00,110.56 428.50,110.80 428.00,108.93 427.50,109.21 427.00,110.88 426.50,107.81 426.00,108.65 425.50,108.45 425.00,108.67 424.50,108.29 424.00,105.87 423.50,105.44 423.00,105.63 422.50,107.84 422.00,105.29 421.50,105.64 421.00,103.78 420.50,105.80 420.00,104.17 419.50,105.24 419.00,103.31 418.50,102.82 418.00,101.79 417.50,101.63 417.00,101.42 416.50,100.85 416.00,99.89 415.50,100.00 415.00,99.02 414.50,99.96 414.00,98.48 413.50,98.70 413.00,97.85 412.50,97.39 412.00,97.49 411.50,99.53 411.00,98.35 410.50,97.21 410.00,96.21 409.50,96.82 409.00,97.65 408.50,96.36 408.00,97.98 407.50,95.67 407.00,94.43 406.50,94.31 406.00,93.97 405.50,94.14 405.00,93.41 404.50,92.92 404.00,95.55 403.50,94.66 403.00,93.80 402.50,94.81 402.00,94.96 401.50,94.22 401.00,93.86 400.50,93.09 400.00,94.00" fill="#e8403f"/>
<polyline points="400.00,89.60 402.50,90.05 405.00,90.50 407.50,92.30 410.00,94.10 412.50,95.30 415.00,96.50 417.50,98.50 420.00,100.50 422.50,102.60 425.00,104.70 427.50,106.10 430.00,107.50 432.50,108.75 435.00,110.00 437.50,111.88 440.00,113.75 442.50,115.17 445.00,116.60 447.50,117.80 450.00,119.00 452.50,120.00 455.00,121.00 457.50,120.80 460.00,120.60 462.00,119.00 463.00,117.00 464.10,113.60 465.10,103.60 465.60,90.00 466.20,50.00 466.70,23.50 467.30,45.00 468.20,80.00 469.10,95.00 469.90,103.60 470.90,112.00 471.70,119.30 472.60,121.00 473.40,115.50 473.90,122.00 474.90,125.70 477.70,127.50 480.60,130.00 483.40,128.20 485.60,126.00 487.20,124.50 487.60,115.00 488.00,107.80 488.50,115.00 489.10,131.00 490.90,131.95 492.70,132.90 495.00,133.50 497.50,134.25 500.00,135.00 501.50,134.00 503.00,133.00 505.00,128.00 507.00,117.00 508.60,112.50 510.30,118.00 512.00,129.50 513.50,131.20 515.00,132.90 517.50,133.60 520.00,134.30 522.50,133.65 525.00,133.00 527.50,133.15 530.00,133.30 532.30,131.50 532.80,100.00 533.20,82.50 533.60,100.00 534.10,131.30 536.00,130.50 538.00,122.40 539.50,110.00 541.10,102.50 542.50,108.00 544.00,122.00 545.50,128.00 547.00,131.30 548.00,133.40 550.00,134.05 552.00,134.70 554.00,133.60 556.00,132.50 558.00,126.00 559.50,118.00 561.00,111.00 562.90,109.50 564.50,112.00 565.50,117.00 566.50,119.00 567.60,114.00 568.40,109.80 569.00,116.00 569.60,125.00 570.50,130.00 573.00,134.30 575.50,135.15 578.00,136.00 580.50,135.60 583.00,135.20 584.50,131.60 586.00,128.00 588.00,122.00 589.60,121.00 591.00,123.00 593.00,130.70 594.50,132.55 596.00,134.40 598.00,135.65 600.00,136.90 602.50,137.50 605.00,138.10 607.00,136.55 609.00,135.00 610.50,134.70 612.00,134.40 613.50,135.00 615.00,135.60 616.50,137.50 618.00,139.40 620.00,140.20 622.00,141.00 624.00,140.80 626.00,140.60 628.50,134.00 630.60,125.00 632.00,131.00 633.00,136.25 634.50,138.78 636.00,141.30 638.00,142.35 640.00,143.40 642.00,143.70 644.00,144.00 646.00,143.83 648.00,143.67 650.00,143.50 651.50,141.75 653.00,140.00 655.20,138.30 657.00,141.60 658.30,136.00 659.10,131.50 659.80,138.00 660.50,145.40 662.75,145.50 665.00,145.60 667.50,145.90 670.00,146.20 672.00,146.27 674.00,146.33 676.00,146.40 677.75,146.40 679.50,146.40" fill="none" stroke="#e8403f" stroke-width="1.4" stroke-linejoin="round"/>
<polygon points="400.00,189.00 400.50,188.33 401.00,188.93 401.50,188.20 402.00,187.67 402.50,186.72 403.00,187.96 403.50,189.84 404.00,186.18 404.50,187.55 405.00,187.98 405.50,186.66 406.00,187.59 406.50,189.44 407.00,189.91 407.50,189.03 408.00,189.33 408.50,187.52 409.00,188.81 409.50,191.26 410.00,191.47 410.50,190.55 411.00,190.68 411.50,192.80 412.00,192.85 412.50,193.09 413.00,191.67 413.50,193.00 414.00,191.59 414.50,193.91 415.00,192.47 415.50,193.03 416.00,190.24 416.50,192.23 417.00,193.90 417.50,194.44 418.00,195.08 418.50,195.30 419.00,194.58 419.50,193.79 420.00,196.37 420.50,192.88 421.00,196.50 421.50,197.01 422.00,193.36 422.50,197.11 423.00,193.60 423.50,197.57 424.00,197.56 424.50,194.55 425.00,196.60 425.50,198.25 426.00,197.73 426.50,197.62 427.00,198.73 427.50,195.69 428.00,196.83 428.50,198.91 429.00,197.73 429.50,197.62 430.00,197.86 430.50,197.92 431.00,196.31 431.50,197.01 432.00,198.40 432.50,197.66 433.00,199.59 433.50,198.00 434.00,200.02 434.50,198.11 435.00,200.21 435.50,198.61 436.00,197.67 436.50,199.69 437.00,199.99 437.50,199.69 438.00,200.56 438.50,200.80 439.00,201.17 439.50,200.16 440.00,200.55 440.50,198.96 441.00,200.97 441.50,201.78 442.00,199.42 442.50,201.31 443.00,202.11 443.50,200.26 444.00,202.55 444.50,201.22 445.00,201.68 445.50,203.21 446.00,201.93 446.50,202.37 447.00,204.08 447.50,203.66 448.00,203.46 448.50,202.00 449.00,202.64 449.50,202.93 450.00,202.88 450.50,203.79 451.00,205.48 451.50,203.49 452.00,204.39 452.50,205.65 453.00,205.63 453.50,205.37 454.00,205.39 454.50,204.55 455.00,204.42 455.50,204.43 456.00,206.31 456.50,204.97 457.00,206.14 457.50,205.11 458.00,206.53 458.50,204.00 459.00,206.14 459.50,206.20 460.00,205.17 460.50,206.06 461.00,205.14 461.50,206.56 462.00,206.18 462.50,206.23 463.00,207.07 463.50,204.06 464.00,203.13 464.50,200.17 465.00,200.35 465.50,198.17 465.95,186.85 466.40,177.92 467.10,162.33 467.60,158.01 468.20,162.83 468.70,170.10 469.20,176.41 469.67,183.16 470.13,189.83 470.60,197.44 471.07,199.15 471.53,202.31 472.00,203.29 472.50,202.50 473.00,204.30 473.50,204.75 474.00,208.02 474.50,208.93 475.00,208.66 475.50,210.42 476.00,210.47 476.50,211.26 477.00,211.10 477.50,208.86 478.00,212.23 478.50,211.95 479.00,210.16 479.50,211.61 480.00,211.80 480.50,209.80 481.00,210.26 481.50,212.50 482.00,212.79 482.50,211.52 483.00,211.46 483.50,210.51 484.00,210.14 484.50,208.51 485.00,209.99 485.50,211.52 486.00,211.76 486.50,211.29 487.00,212.95 487.50,212.76 488.00,211.41 488.50,213.30 489.00,214.42 489.50,213.61 490.00,215.60 490.50,215.51 491.00,215.67 491.50,213.69 492.00,212.42 492.50,215.08 493.00,215.64 493.50,214.51 494.00,214.31 494.50,213.92 495.00,214.43 495.50,214.19 496.00,215.41 496.50,215.30 497.00,215.47 497.50,214.44 498.00,214.63 498.50,215.25 499.00,214.42 499.50,214.31 500.00,214.07 500.50,212.44 501.00,215.26 501.50,214.19 502.00,212.47 502.50,213.91 503.00,213.26 503.50,213.48 504.00,213.44 504.50,212.95 505.00,210.50 505.50,211.77 506.00,209.13 506.50,210.20 507.00,209.16 507.50,206.23 508.05,207.24 508.60,204.89 509.15,204.84 509.70,202.86 510.15,203.90 510.60,203.77 511.05,205.97 511.50,206.16 512.00,209.05 512.50,209.06 513.00,211.34 513.50,210.30 514.00,210.84 514.50,210.37 515.00,211.36 515.50,211.68 516.00,210.36 516.50,209.11 517.00,210.55 517.50,210.52 518.00,210.58 518.50,210.48 519.00,210.91 519.50,209.57 520.00,210.74 520.50,211.82 521.00,210.69 521.50,210.80 522.00,210.66 522.50,210.46 523.00,211.64 523.50,211.07 524.00,211.41 524.50,211.51 525.00,211.98 525.50,211.33 526.00,211.11 526.50,211.69 527.00,210.32 527.50,210.64 528.00,211.39 528.50,211.01 529.00,208.67 529.50,210.11 530.00,209.43 530.50,210.80 531.00,209.02 531.50,210.32 532.00,210.97 532.50,210.43 533.00,209.82 533.50,210.11 534.00,208.76 534.50,209.50 535.00,208.95 535.50,210.16 536.00,209.55 536.50,206.86 537.00,207.67 537.50,206.34 538.00,204.69 538.50,203.11 539.00,200.02 539.50,200.99 540.00,196.78 540.50,195.93 541.00,192.56 541.47,193.45 541.93,192.12 542.40,190.34 542.95,191.85 543.50,194.64 544.00,197.96 544.50,201.28 545.00,202.85 545.50,203.94 546.00,207.08 546.50,209.15 547.00,209.20 547.50,211.73 548.00,212.05 548.50,212.17 549.00,210.55 549.50,210.37 550.00,211.11 550.50,210.72 551.00,210.27 551.50,210.77 552.00,211.71 552.50,209.43 553.00,211.28 553.50,208.71 554.00,210.80 554.50,209.99 555.00,210.06 555.50,209.57 556.00,206.05 556.50,207.50 557.00,205.70 557.50,205.48 558.00,204.50 558.50,201.38 559.00,201.25 559.50,199.94 560.00,200.30 560.50,197.17 561.00,196.94 561.50,196.67 561.97,195.54 562.43,196.47 562.90,195.16 563.43,197.00 563.97,196.44 564.50,195.08 565.00,197.86 565.50,198.11 566.00,200.31 566.50,201.32 567.00,203.54 567.50,206.27 568.00,204.26 568.50,207.11 569.00,207.42 569.50,210.44 570.00,210.04 570.50,210.17 571.00,210.14 571.50,210.47 572.00,209.22 572.50,211.44 573.00,210.23 573.50,212.22 574.00,212.11 574.50,211.55 575.00,210.88 575.50,210.95 576.00,212.94 576.50,211.79 577.00,212.42 577.50,211.48 578.00,212.70 578.50,211.28 579.00,212.44 579.50,212.16 580.00,212.18 580.50,211.60 581.00,212.67 581.50,213.43 582.00,213.19 582.50,210.63 583.00,211.86 583.50,211.04 584.00,212.41 584.50,209.77 585.00,211.56 585.50,209.74 586.00,209.99 586.50,209.09 587.00,209.30 587.50,206.46 588.00,206.48 588.50,203.78 588.94,203.66 589.38,203.47 589.81,202.90 590.25,201.29 590.88,202.96 591.50,203.96 592.00,204.61 592.50,207.72 593.00,207.82 593.50,208.58 594.00,208.72 594.50,210.77 595.00,209.32 595.50,211.58 596.00,212.87 596.50,211.46 597.00,212.87 597.50,212.50 598.00,213.58 598.50,213.55 599.00,213.26 599.50,213.86 600.00,214.46 600.50,212.77 601.00,213.78 601.50,212.53 602.00,215.45 602.50,212.10 603.00,213.62 603.50,213.42 604.00,214.33 604.50,214.08 605.00,214.21 605.50,213.80 606.00,212.95 606.50,211.49 607.00,212.39 607.50,213.03 608.00,212.35 608.50,212.23 609.00,211.04 609.50,211.38 610.00,210.52 610.50,210.97 611.00,210.44 611.50,210.25 612.00,209.36 612.50,209.96 613.00,209.36 613.50,210.18 614.00,212.79 614.50,212.21 615.00,213.04 615.50,213.52 616.00,214.54 616.50,214.57 617.00,214.17 617.50,215.09 618.00,215.89 618.50,215.57 619.00,214.14 619.50,215.89 620.00,216.29 620.50,214.90 621.00,215.60 621.50,215.73 622.00,216.64 622.50,217.15 623.00,216.88 623.50,216.26 624.00,216.70 624.50,215.26 625.00,216.15 625.50,215.29 626.00,215.99 626.50,216.21 627.00,215.92 627.50,214.69 628.00,213.54 628.50,213.28 628.95,210.71 629.40,210.48 629.95,210.52 630.50,211.80 631.00,212.75 631.50,213.25 632.00,214.37 632.50,214.77 633.00,214.34 633.50,215.45 634.00,214.11 634.50,215.79 635.00,215.26 635.50,216.49 636.00,218.58 636.50,217.53 637.00,218.39 637.50,215.81 638.00,217.40 638.50,219.26 639.00,217.86 639.50,218.17 640.00,217.54 640.50,218.52 641.00,217.99 641.50,219.88 642.00,217.44 642.50,218.60 643.00,218.07 643.50,219.53 644.00,219.74 644.50,219.17 645.00,219.93 645.50,218.68 646.00,218.09 646.50,218.16 647.00,217.48 647.50,218.25 648.00,216.62 648.50,218.64 649.00,217.87 649.50,216.47 650.00,217.54 650.50,216.92 651.00,217.40 651.50,216.52 652.00,217.48 652.50,216.94 653.00,216.21 653.50,216.22 654.00,216.28 654.50,215.29 655.00,216.61 655.50,214.12 656.00,213.94 656.50,215.37 657.00,215.67 657.50,216.97 658.00,216.58 658.50,215.31 659.00,217.17 659.50,217.71 660.00,218.10 660.50,219.05 661.00,218.62 661.50,219.15 662.00,220.40 662.50,219.87 663.00,219.87 663.50,218.84 664.00,218.92 664.50,220.18 665.00,220.99 665.50,220.27 666.00,220.20 666.50,219.00 667.00,220.53 667.50,220.05 668.00,220.95 668.50,221.37 669.00,221.24 669.50,220.71 670.00,221.31 670.50,220.38 671.00,220.74 671.50,220.61 672.00,221.07 672.50,220.89 673.00,221.91 673.50,221.85 674.00,221.32 674.50,220.09 675.00,219.72 675.50,220.06 676.00,221.92 676.50,220.61 677.00,221.45 677.50,220.10 678.00,219.25 678.50,219.56 679.00,219.60 679.50,217.25 679.50,225.88 679.00,224.47 678.50,225.63 678.00,225.39 677.50,224.84 677.00,225.18 676.50,226.13 676.00,227.68 675.50,227.06 675.00,226.66 674.50,228.73 674.00,227.23 673.50,226.44 673.00,226.42 672.50,225.97 672.00,226.30 671.50,226.82 671.00,227.45 670.50,227.14 670.00,226.86 669.50,226.76 669.00,225.21 668.50,224.99 668.00,224.93 667.50,226.71 667.00,227.19 666.50,225.52 666.00,226.49 665.50,225.06 665.00,226.18 664.50,224.88 664.00,225.54 663.50,225.02 663.00,225.11 662.50,224.76 662.00,225.93 661.50,223.83 661.00,224.92 660.50,223.73 660.00,222.81 659.50,222.91 659.00,222.48 658.50,223.22 658.00,222.42 657.50,221.74 657.00,222.16 656.50,220.75 656.00,220.85 655.50,220.14 655.00,220.85 654.50,222.07 654.00,220.74 653.50,221.77 653.00,221.15 652.50,221.29 652.00,222.79 651.50,222.37 651.00,221.62 650.50,222.89 650.00,223.55 649.50,223.66 649.00,222.26 648.50,223.45 648.00,222.86 647.50,223.07 647.00,222.95 646.50,223.76 646.00,224.76 645.50,224.41 645.00,223.78 644.50,223.71 644.00,224.56 643.50,223.98 643.00,224.30 642.50,224.33 642.00,223.97 641.50,224.78 641.00,224.30 640.50,223.72 640.00,224.96 639.50,223.50 639.00,224.36 638.50,225.53 638.00,224.10 637.50,224.07 637.00,225.50 636.50,222.45 636.00,222.10 635.50,223.41 635.00,222.59 634.50,220.83 634.00,222.14 633.50,221.93 633.00,220.97 632.50,219.99 632.00,219.77 631.50,219.22 631.00,217.34 630.50,217.29 629.95,216.41 629.40,215.58 628.95,216.38 628.50,218.62 628.00,218.56 627.50,219.41 627.00,221.41 626.50,222.18 626.00,221.07 625.50,220.80 625.00,221.31 624.50,223.40 624.00,221.82 623.50,223.01 623.00,222.00 622.50,221.11 622.00,223.02 621.50,221.22 621.00,221.63 620.50,220.80 620.00,221.14 619.50,221.61 619.00,222.17 618.50,221.83 618.00,220.10 617.50,220.30 617.00,219.35 616.50,221.52 616.00,219.16 615.50,218.80 615.00,217.90 614.50,216.79 614.00,218.97 613.50,217.67 613.00,217.56 612.50,216.14 612.00,215.94 611.50,218.17 611.00,215.31 610.50,216.61 610.00,218.29 609.50,217.40 609.00,216.22 608.50,217.37 608.00,217.91 607.50,217.52 607.00,218.15 606.50,218.11 606.00,218.37 605.50,219.78 605.00,219.92 604.50,219.17 604.00,219.40 603.50,219.08 603.00,220.69 602.50,220.60 602.00,219.51 601.50,219.60 601.00,219.18 600.50,218.89 600.00,219.10 599.50,219.09 599.00,218.87 598.50,220.15 598.00,219.29 597.50,218.69 597.00,219.21 596.50,217.95 596.00,218.36 595.50,216.60 595.00,216.48 594.50,215.90 594.00,214.34 593.50,214.62 593.00,213.70 592.50,211.85 592.00,209.98 591.50,208.26 590.88,208.77 590.25,208.02 589.81,207.28 589.38,207.33 588.94,209.79 588.50,210.03 588.00,210.79 587.50,213.01 587.00,213.53 586.50,214.43 586.00,214.84 585.50,215.76 585.00,217.10 584.50,217.75 584.00,218.43 583.50,217.10 583.00,218.29 582.50,218.63 582.00,219.11 581.50,217.15 581.00,219.64 580.50,218.06 580.00,217.07 579.50,220.20 579.00,218.51 578.50,217.85 578.00,219.00 577.50,217.30 577.00,219.34 576.50,218.33 576.00,216.58 575.50,217.36 575.00,218.38 574.50,217.88 574.00,217.11 573.50,216.85 573.00,216.93 572.50,217.67 572.00,217.14 571.50,215.74 571.00,216.73 570.50,217.20 570.00,216.86 569.50,214.83 569.00,214.68 568.50,212.60 568.00,211.73 567.50,209.84 567.00,208.67 566.50,208.17 566.00,206.55 565.50,206.65 565.00,203.76 564.50,204.25 563.97,201.85 563.43,202.00 562.90,201.45 562.43,202.14 561.97,202.35 561.50,203.96 561.00,202.47 560.50,205.04 560.00,204.49 559.50,205.94 559.00,208.02 558.50,208.31 558.00,211.94 557.50,210.81 557.00,210.64 556.50,211.62 556.00,212.89 555.50,215.50 555.00,216.36 554.50,215.60 554.00,214.96 553.50,215.35 553.00,217.11 552.50,217.86 552.00,216.77 551.50,215.77 551.00,215.94 550.50,217.04 550.00,218.50 549.50,218.45 549.00,218.48 548.50,217.11 548.00,215.80 547.50,215.43 547.00,215.94 546.50,213.97 546.00,212.80 545.50,210.14 545.00,209.40 544.50,205.64 544.00,203.49 543.50,201.41 542.95,198.12 542.40,197.39 541.93,197.46 541.47,199.37 541.00,200.39 540.50,200.97 540.00,203.53 539.50,206.09 539.00,207.20 538.50,210.00 538.00,209.04 537.50,210.17 537.00,212.59 536.50,213.16 536.00,214.46 535.50,215.29 535.00,216.09 534.50,214.83 534.00,215.85 533.50,215.72 533.00,215.09 532.50,214.73 532.00,215.68 531.50,215.80 531.00,217.81 530.50,218.36 530.00,217.57 529.50,216.84 529.00,216.94 528.50,215.65 528.00,215.77 527.50,217.71 527.00,218.04 526.50,217.11 526.00,217.11 525.50,216.41 525.00,217.65 524.50,217.53 524.00,218.48 523.50,216.65 523.00,218.38 522.50,217.45 522.00,218.06 521.50,216.58 521.00,215.79 520.50,216.32 520.00,217.98 519.50,216.33 519.00,215.72 518.50,217.51 518.00,217.30 517.50,216.65 517.00,216.87 516.50,218.49 516.00,215.99 515.50,218.04 515.00,216.22 514.50,215.97 514.00,218.68 513.50,215.41 513.00,216.22 512.50,214.48 512.00,214.91 511.50,212.35 511.05,211.18 510.60,210.86 510.15,211.69 509.70,208.69 509.15,209.29 508.60,210.27 508.05,211.12 507.50,213.23 507.00,212.86 506.50,215.23 506.00,215.93 505.50,217.66 505.00,217.59 504.50,218.93 504.00,218.86 503.50,219.15 503.00,218.31 502.50,219.76 502.00,218.68 501.50,220.46 501.00,218.88 500.50,219.47 500.00,220.42 499.50,219.31 499.00,221.31 498.50,220.33 498.00,219.11 497.50,219.59 497.00,220.27 496.50,220.46 496.00,220.76 495.50,219.34 495.00,220.62 494.50,219.25 494.00,220.13 493.50,219.64 493.00,219.42 492.50,220.04 492.00,219.73 491.50,219.26 491.00,219.54 490.50,219.34 490.00,220.44 489.50,221.46 489.00,220.04 488.50,220.35 488.00,219.07 487.50,218.22 487.00,218.15 486.50,217.26 486.00,216.07 485.50,215.36 485.00,214.92 484.50,216.54 484.00,216.25 483.50,216.26 483.00,217.48 482.50,216.23 482.00,217.54 481.50,217.38 481.00,217.77 480.50,216.57 480.00,218.10 479.50,216.50 479.00,217.79 478.50,217.83 478.00,217.83 477.50,217.38 477.00,218.16 476.50,216.26 476.00,216.67 475.50,216.23 475.00,213.41 474.50,212.79 474.00,211.73 473.50,211.23 473.00,210.13 472.50,210.36 472.00,210.34 471.53,208.00 471.07,206.22 470.60,202.05 470.13,195.44 469.67,188.79 469.20,183.41 468.70,174.96 468.20,168.14 467.60,162.71 467.10,168.03 466.40,182.40 465.95,192.59 465.50,203.55 465.00,205.92 464.50,208.60 464.00,209.79 463.50,209.50 463.00,211.43 462.50,211.09 462.00,210.73 461.50,211.37 461.00,211.76 460.50,211.64 460.00,210.63 459.50,210.78 459.00,211.24 458.50,210.38 458.00,212.35 457.50,210.48 457.00,212.06 456.50,211.33 456.00,211.82 455.50,211.27 455.00,211.57 454.50,211.73 454.00,211.13 453.50,209.94 453.00,211.61 452.50,210.20 452.00,210.00 451.50,210.57 451.00,209.65 450.50,209.66 450.00,210.57 449.50,210.47 449.00,209.35 448.50,211.79 448.00,209.59 447.50,210.40 447.00,208.76 446.50,211.32 446.00,210.49 445.50,207.60 445.00,210.80 444.50,209.43 444.00,207.38 443.50,207.63 443.00,209.53 442.50,208.41 442.00,208.84 441.50,208.11 441.00,207.70 440.50,206.53 440.00,207.68 439.50,206.95 439.00,207.66 438.50,208.09 438.00,207.14 437.50,207.42 437.00,206.21 436.50,205.28 436.00,206.15 435.50,207.20 435.00,204.86 434.50,204.96 434.00,206.27 433.50,206.58 433.00,207.03 432.50,204.22 432.00,204.13 431.50,205.90 431.00,204.44 430.50,204.10 430.00,204.25 429.50,204.74 429.00,204.57 428.50,204.52 428.00,203.54 427.50,203.70 427.00,204.68 426.50,205.26 426.00,205.03 425.50,203.35 425.00,204.80 424.50,206.72 424.00,202.39 423.50,203.62 423.00,203.21 422.50,203.02 422.00,201.87 421.50,202.35 421.00,203.84 420.50,201.74 420.00,200.90 419.50,204.51 419.00,203.00 418.50,200.71 418.00,201.34 417.50,200.82 417.00,201.42 416.50,200.58 416.00,201.66 415.50,199.46 415.00,200.21 414.50,199.59 414.00,198.33 413.50,198.64 413.00,198.79 412.50,198.00 412.00,199.04 411.50,197.71 411.00,199.46 410.50,201.15 410.00,197.40 409.50,198.27 409.00,198.37 408.50,198.04 408.00,198.56 407.50,196.28 407.00,196.44 406.50,199.51 406.00,195.49 405.50,197.02 405.00,195.46 404.50,195.88 404.00,197.10 403.50,196.71 403.00,196.02 402.50,195.01 402.00,195.80 401.50,196.99 401.00,198.61 400.50,196.90 400.00,196.89" fill="#555555"/>
<polyline points="400.00,192.30 402.50,192.45 405.00,192.60 407.50,193.55 410.00,194.50 412.50,195.45 415.00,196.40 417.50,197.55 420.00,198.70 422.50,199.65 425.00,200.60 427.50,201.10 430.00,201.60 432.50,202.10 435.00,202.60 437.50,203.45 440.00,204.30 442.50,204.90 445.00,205.50 447.50,206.35 450.00,207.20 452.50,207.60 455.00,208.00 457.50,208.25 460.00,208.50 461.50,208.75 463.00,209.00 464.50,205.00 465.50,200.00 466.40,180.00 467.10,166.00 467.60,161.00 468.20,166.00 469.20,180.00 470.60,200.00 472.00,206.00 473.00,208.00 474.50,210.60 476.00,213.20 478.00,214.00 480.00,214.80 481.50,214.65 483.00,214.50 485.00,213.00 487.00,215.50 488.50,216.40 490.00,217.30 492.50,217.40 495.00,217.50 497.50,217.40 500.00,217.30 501.50,216.90 503.00,216.50 505.00,215.00 507.50,210.00 509.70,206.50 511.50,210.00 513.00,213.70 514.75,213.77 516.50,213.85 518.25,213.93 520.00,214.00 522.50,213.95 525.00,213.90 527.50,213.75 530.00,213.60 532.50,213.05 535.00,212.50 536.50,211.00 538.00,207.00 539.50,203.00 541.00,197.00 542.40,193.50 543.50,197.00 544.50,203.00 545.50,207.50 547.00,213.60 548.50,213.95 550.00,214.30 552.50,213.60 555.00,212.90 556.50,209.95 558.00,207.00 560.00,202.50 561.50,199.50 562.90,198.30 564.50,200.00 566.00,203.50 567.50,208.00 570.00,213.60 572.50,214.05 575.00,214.50 577.50,214.90 580.00,215.30 582.50,215.00 585.00,214.70 587.00,211.00 588.50,207.00 590.25,204.00 591.50,206.50 593.00,211.00 595.00,213.45 597.00,215.90 599.00,216.55 601.00,217.20 603.00,217.05 605.00,216.90 607.00,215.50 609.00,214.00 611.00,213.10 612.50,213.90 614.00,214.70 616.00,216.25 618.00,217.80 620.00,218.50 622.00,219.20 624.00,219.40 625.50,218.90 627.00,218.40 628.50,215.00 629.40,212.50 630.50,214.50 632.00,217.20 634.00,218.75 636.00,220.30 638.00,220.95 640.00,221.60 642.50,221.60 645.00,221.60 647.50,220.95 650.00,220.30 652.00,219.35 654.00,218.40 656.00,218.30 658.00,220.00 660.00,221.10 662.00,222.20 664.50,222.65 667.00,223.10 669.50,223.43 672.00,223.75 674.00,223.75 676.00,223.75 677.75,222.97 679.50,222.20" fill="none" stroke="#555555" stroke-width="1.4" stroke-linejoin="round"/>
<text transform="translate(457.90,20.00) scale(0.880,1)" font-size="12.3" text-anchor="start" font-family="Liberation Sans, sans-serif" font-weight="bold" >25.5</text>
<ellipse cx="480.80" cy="12.90" rx="1.55" ry="1.8" fill="none" stroke="#111" stroke-width="1.05"/>
<text transform="translate(499.90,110.50) scale(0.880,1)" font-size="12.3" text-anchor="start" font-family="Liberation Sans, sans-serif" font-weight="bold" >37.8</text>
<ellipse cx="522.50" cy="104.50" rx="1.55" ry="1.8" fill="none" stroke="#111" stroke-width="1.05"/>
<text transform="translate(533.10,98.20) scale(0.880,1)" font-size="12.3" text-anchor="start" font-family="Liberation Sans, sans-serif" font-weight="bold" >47.9</text>
<ellipse cx="556.10" cy="91.10" rx="1.55" ry="1.8" fill="none" stroke="#111" stroke-width="1.05"/>
<text transform="translate(560.10,104.50) scale(0.880,1)" font-size="12.3" text-anchor="start" font-family="Liberation Sans, sans-serif" font-weight="bold" >54.4</text>
<ellipse cx="582.20" cy="97.70" rx="1.55" ry="1.8" fill="none" stroke="#111" stroke-width="1.05"/>
<text transform="translate(581.00,116.90) scale(0.880,1)" font-size="12.3" text-anchor="start" font-family="Liberation Sans, sans-serif" font-weight="bold" >62.6</text>
<ellipse cx="603.80" cy="110.10" rx="1.55" ry="1.8" fill="none" stroke="#111" stroke-width="1.05"/>
<text transform="translate(625.50,121.50) scale(0.880,1)" font-size="12.3" text-anchor="start" font-family="Liberation Sans, sans-serif" font-weight="bold" >75.1</text>
<ellipse cx="647.50" cy="114.20" rx="1.55" ry="1.8" fill="none" stroke="#111" stroke-width="1.05"/>
<text transform="translate(460.00,160.00) scale(0.880,1)" font-size="12.3" text-anchor="start" font-family="Liberation Sans, sans-serif" font-weight="bold" >25.7</text>
<ellipse cx="482.60" cy="153.20" rx="1.55" ry="1.8" fill="none" stroke="#111" stroke-width="1.05"/>
<text transform="translate(502.60,200.40) scale(0.880,1)" font-size="12.3" text-anchor="start" font-family="Liberation Sans, sans-serif" font-weight="bold" >38.0</text>
<ellipse cx="525.40" cy="193.80" rx="1.55" ry="1.8" fill="none" stroke="#111" stroke-width="1.05"/>
<text transform="translate(534.80,185.70) scale(0.880,1)" font-size="12.3" text-anchor="start" font-family="Liberation Sans, sans-serif" font-weight="bold" >48.4</text>
<ellipse cx="556.80" cy="179.00" rx="1.55" ry="1.8" fill="none" stroke="#111" stroke-width="1.05"/>
<text transform="translate(558.90,193.50) scale(0.880,1)" font-size="12.3" text-anchor="start" font-family="Liberation Sans, sans-serif" font-weight="bold" >54.8</text>
<ellipse cx="581.30" cy="186.90" rx="1.55" ry="1.8" fill="none" stroke="#111" stroke-width="1.05"/>
<text transform="translate(586.20,200.90) scale(0.880,1)" font-size="12.3" text-anchor="start" font-family="Liberation Sans, sans-serif" font-weight="bold" >62.9</text>
<ellipse cx="609.10" cy="194.30" rx="1.55" ry="1.8" fill="none" stroke="#111" stroke-width="1.05"/>
<text transform="translate(621.10,208.60) scale(0.880,1)" font-size="12.3" text-anchor="start" font-family="Liberation Sans, sans-serif" font-weight="bold" >75.5</text>
<ellipse cx="643.90" cy="202.00" rx="1.55" ry="1.8" fill="none" stroke="#111" stroke-width="1.05"/>
</svg>
</body></html>
